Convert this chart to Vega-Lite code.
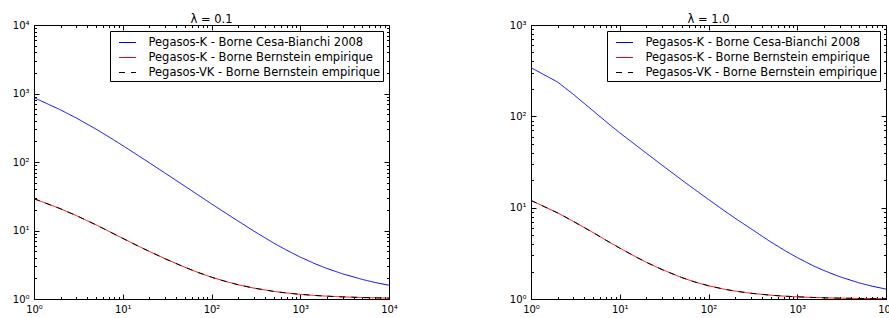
{
  "$schema": "https://vega.github.io/schema/vega-lite/v6.json",
  "padding": {"left": 11, "top": 13, "right": 0, "bottom": 0},
  "background": "white",
  "config": {
    "font": "DejaVu Sans",
    "view": {"stroke": "#000000", "strokeWidth": 1},
    "axis": {
      "domain": false,
      "grid": false,
      "tickColor": "#000000",
      "tickWidth": 1,
      "labelColor": "#000000",
      "labelFont": "DejaVu Sans",
      "labelFontSize": 10,
      "labelFlush": false,
      "labelOverlap": false,
      "labelPadding": 10,
      "title": null
    },
    "title": {"font": "DejaVu Sans", "fontSize": 11.5, "fontWeight": "normal", "color": "#000000", "offset": -5, "frame": "group", "anchor": "middle"},
    "legend": {
      "orient": "top-right",
      "offset": 6,
      "title": null,
      "symbolType": "stroke",
      "symbolSize": 289,
      "symbolStrokeWidth": 1,
      "labelFont": "DejaVu Sans",
      "labelFontSize": 11.5,
      "labelColor": "#000000",
      "labelOffset": 12,
      "labelLimit": 0,
      "padding": 2.5,
      "symbolOffset": 6,
      "rowPadding": -2,
      "strokeColor": "#000000",
      "fillColor": "#ffffff",
      "cornerRadius": 0
    }
  },
  "datasets": {
    "p1": [
      {"n": 1, "s": "cb", "v": 870}, {"n": 2, "s": "cb", "v": 575}, {"n": 3, "s": "cb", "v": 439}, {"n": 5, "s": "cb", "v": 302},
      {"n": 7, "s": "cb", "v": 232}, {"n": 10, "s": "cb", "v": 173.6}, {"n": 15, "s": "cb", "v": 123.7}, {"n": 20, "s": "cb", "v": 97.2},
      {"n": 30, "s": "cb", "v": 68.8}, {"n": 50, "s": "cb", "v": 44.4}, {"n": 70, "s": "cb", "v": 33.3}, {"n": 100, "s": "cb", "v": 24.5},
      {"n": 150, "s": "cb", "v": 17.4}, {"n": 200, "s": "cb", "v": 13.7}, {"n": 300, "s": "cb", "v": 9.81}, {"n": 500, "s": "cb", "v": 6.58},
      {"n": 700, "s": "cb", "v": 5.17}, {"n": 1000, "s": "cb", "v": 4.09}, {"n": 1500, "s": "cb", "v": 3.23}, {"n": 2000, "s": "cb", "v": 2.79},
      {"n": 3000, "s": "cb", "v": 2.33}, {"n": 5000, "s": "cb", "v": 1.93}, {"n": 7000, "s": "cb", "v": 1.74}, {"n": 10000, "s": "cb", "v": 1.59},
      {"n": 1, "s": "bk", "v": 29.1}, {"n": 2, "s": "bk", "v": 20.7}, {"n": 3, "s": "bk", "v": 16.5}, {"n": 5, "s": "bk", "v": 12.1},
      {"n": 7, "s": "bk", "v": 9.71}, {"n": 10, "s": "bk", "v": 7.68}, {"n": 15, "s": "bk", "v": 5.91}, {"n": 20, "s": "bk", "v": 4.94},
      {"n": 30, "s": "bk", "v": 3.87}, {"n": 50, "s": "bk", "v": 2.91}, {"n": 70, "s": "bk", "v": 2.45}, {"n": 100, "s": "bk", "v": 2.08},
      {"n": 150, "s": "bk", "v": 1.778}, {"n": 200, "s": "bk", "v": 1.614}, {"n": 300, "s": "bk", "v": 1.442}, {"n": 500, "s": "bk", "v": 1.293},
      {"n": 700, "s": "bk", "v": 1.225}, {"n": 1000, "s": "bk", "v": 1.17}, {"n": 1500, "s": "bk", "v": 1.124}, {"n": 2000, "s": "bk", "v": 1.1},
      {"n": 3000, "s": "bk", "v": 1.074}, {"n": 5000, "s": "bk", "v": 1.051}, {"n": 7000, "s": "bk", "v": 1.04}, {"n": 10000, "s": "bk", "v": 1.031},
      {"n": 1, "s": "vk", "v": 29.1}, {"n": 2, "s": "vk", "v": 20.7}, {"n": 3, "s": "vk", "v": 16.5}, {"n": 5, "s": "vk", "v": 12.1},
      {"n": 7, "s": "vk", "v": 9.71}, {"n": 10, "s": "vk", "v": 7.68}, {"n": 15, "s": "vk", "v": 5.91}, {"n": 20, "s": "vk", "v": 4.94},
      {"n": 30, "s": "vk", "v": 3.87}, {"n": 50, "s": "vk", "v": 2.91}, {"n": 70, "s": "vk", "v": 2.45}, {"n": 100, "s": "vk", "v": 2.08},
      {"n": 150, "s": "vk", "v": 1.778}, {"n": 200, "s": "vk", "v": 1.614}, {"n": 300, "s": "vk", "v": 1.442}, {"n": 500, "s": "vk", "v": 1.293},
      {"n": 700, "s": "vk", "v": 1.225}, {"n": 1000, "s": "vk", "v": 1.17}, {"n": 1500, "s": "vk", "v": 1.124}, {"n": 2000, "s": "vk", "v": 1.1},
      {"n": 3000, "s": "vk", "v": 1.074}, {"n": 5000, "s": "vk", "v": 1.051}, {"n": 7000, "s": "vk", "v": 1.04}, {"n": 10000, "s": "vk", "v": 1.031}
    ],
    "p2": [
      {"n": 1, "s": "cb", "v": 341}, {"n": 2, "s": "cb", "v": 237}, {"n": 3, "s": "cb", "v": 174}, {"n": 5, "s": "cb", "v": 115},
      {"n": 7, "s": "cb", "v": 87.5}, {"n": 10, "s": "cb", "v": 66}, {"n": 15, "s": "cb", "v": 48.8}, {"n": 20, "s": "cb", "v": 39.4},
      {"n": 30, "s": "cb", "v": 29.2}, {"n": 50, "s": "cb", "v": 20.1}, {"n": 70, "s": "cb", "v": 15.8}, {"n": 100, "s": "cb", "v": 12.3},
      {"n": 150, "s": "cb", "v": 9.28}, {"n": 200, "s": "cb", "v": 7.65}, {"n": 300, "s": "cb", "v": 5.89}, {"n": 500, "s": "cb", "v": 4.23},
      {"n": 700, "s": "cb", "v": 3.46}, {"n": 1000, "s": "cb", "v": 2.84}, {"n": 1500, "s": "cb", "v": 2.32}, {"n": 2000, "s": "cb", "v": 2.05},
      {"n": 3000, "s": "cb", "v": 1.755}, {"n": 5000, "s": "cb", "v": 1.5}, {"n": 7000, "s": "cb", "v": 1.38}, {"n": 10000, "s": "cb", "v": 1.284},
      {"n": 1, "s": "bk", "v": 12.0}, {"n": 2, "s": "bk", "v": 8.76}, {"n": 3, "s": "bk", "v": 7.08}, {"n": 5, "s": "bk", "v": 5.34},
      {"n": 7, "s": "bk", "v": 4.4}, {"n": 10, "s": "bk", "v": 3.61}, {"n": 15, "s": "bk", "v": 2.91}, {"n": 20, "s": "bk", "v": 2.52},
      {"n": 30, "s": "bk", "v": 2.1}, {"n": 50, "s": "bk", "v": 1.715}, {"n": 70, "s": "bk", "v": 1.537}, {"n": 100, "s": "bk", "v": 1.396},
      {"n": 150, "s": "bk", "v": 1.281}, {"n": 200, "s": "bk", "v": 1.22}, {"n": 300, "s": "bk", "v": 1.156}, {"n": 500, "s": "bk", "v": 1.101},
      {"n": 700, "s": "bk", "v": 1.076}, {"n": 1000, "s": "bk", "v": 1.056}, {"n": 1500, "s": "bk", "v": 1.04}, {"n": 2000, "s": "bk", "v": 1.031},
      {"n": 3000, "s": "bk", "v": 1.022}, {"n": 5000, "s": "bk", "v": 1.014}, {"n": 7000, "s": "bk", "v": 1.011}, {"n": 10000, "s": "bk", "v": 1.008},
      {"n": 1, "s": "vk", "v": 12.0}, {"n": 2, "s": "vk", "v": 8.76}, {"n": 3, "s": "vk", "v": 7.08}, {"n": 5, "s": "vk", "v": 5.34},
      {"n": 7, "s": "vk", "v": 4.4}, {"n": 10, "s": "vk", "v": 3.61}, {"n": 15, "s": "vk", "v": 2.91}, {"n": 20, "s": "vk", "v": 2.52},
      {"n": 30, "s": "vk", "v": 2.1}, {"n": 50, "s": "vk", "v": 1.715}, {"n": 70, "s": "vk", "v": 1.537}, {"n": 100, "s": "vk", "v": 1.396},
      {"n": 150, "s": "vk", "v": 1.281}, {"n": 200, "s": "vk", "v": 1.22}, {"n": 300, "s": "vk", "v": 1.156}, {"n": 500, "s": "vk", "v": 1.101},
      {"n": 700, "s": "vk", "v": 1.076}, {"n": 1000, "s": "vk", "v": 1.056}, {"n": 1500, "s": "vk", "v": 1.04}, {"n": 2000, "s": "vk", "v": 1.031},
      {"n": 3000, "s": "vk", "v": 1.022}, {"n": 5000, "s": "vk", "v": 1.014}, {"n": 7000, "s": "vk", "v": 1.011}, {"n": 10000, "s": "vk", "v": 1.008}
    ]
  },
  "spacing": 142,
  "bounds": "flush",
  "resolve": {
    "scale": {"color": "independent", "strokeDash": "independent"},
    "legend": {"color": "independent", "strokeDash": "independent"}
  },
  "hconcat": [
    {
      "width": 355,
      "height": 274,
      "title": "λ = 0.1",
      "data": {"name": "p1"},
      "resolve": {"axis": {"x": "independent", "y": "independent"}},
      "layer": [
        {
          "mark": {"type": "line", "strokeWidth": 1, "clip": true},
          "encoding": {
            "x": {"field": "n", "type": "quantitative",
              "scale": {"type": "log", "domain": [1, 10000], "nice": false},
              "axis": {"orient": "bottom",
                "values": [1,2,3,4,5,6,7,8,9,10,20,30,40,50,60,70,80,90,100,200,300,400,500,600,700,800,900,1000,2000,3000,4000,5000,6000,7000,8000,9000,10000],
                "tickSize": {"expr": "indexof([1,10,100,1000,10000], datum.value) >= 0 ? -5 : -2.5"},
                "labelExpr": "indexof([1,10,100,1000,10000], datum.value) >= 0 ? '10' + ['⁰','¹','²','³','⁴'][indexof([1,10,100,1000,10000], datum.value)] : ''"}},
            "y": {"field": "v", "type": "quantitative",
              "scale": {"type": "log", "domain": [1, 10000], "nice": false},
              "axis": {"orient": "left",
                "values": [1,2,3,4,5,6,7,8,9,10,20,30,40,50,60,70,80,90,100,200,300,400,500,600,700,800,900,1000,2000,3000,4000,5000,6000,7000,8000,9000,10000],
                "tickSize": {"expr": "indexof([1,10,100,1000,10000], datum.value) >= 0 ? -5 : -2.5"},
                "labelExpr": "indexof([1,10,100,1000,10000], datum.value) >= 0 ? '10' + ['⁰','¹','²','³','⁴'][indexof([1,10,100,1000,10000], datum.value)] : ''"}},
            "color": {"field": "s", "type": "nominal",
              "scale": {"domain": ["cb", "bk", "vk"], "range": ["#0000ff", "#ff0000", "#000000"]},
              "legend": {"labelExpr": "datum.value == 'cb' ? 'Pegasos-K - Borne Cesa-Bianchi 2008' : datum.value == 'bk' ? 'Pegasos-K - Borne Bernstein empirique' : 'Pegasos-VK - Borne Bernstein empirique'"}},
            "strokeDash": {"field": "s", "type": "nominal",
              "scale": {"domain": ["cb", "bk", "vk"], "range": [[1, 0], [1, 0], [6, 6]]},
              "legend": {"labelExpr": "datum.value == 'cb' ? 'Pegasos-K - Borne Cesa-Bianchi 2008' : datum.value == 'bk' ? 'Pegasos-K - Borne Bernstein empirique' : 'Pegasos-VK - Borne Bernstein empirique'"}}
          }
        },
        {
          "mark": {"type": "point", "opacity": 0},
          "encoding": {
            "x": {"field": "n", "type": "quantitative",
              "scale": {"type": "log", "domain": [1, 10000], "nice": false},
              "axis": {"orient": "top", "labels": false,
                "values": [1,2,3,4,5,6,7,8,9,10,20,30,40,50,60,70,80,90,100,200,300,400,500,600,700,800,900,1000,2000,3000,4000,5000,6000,7000,8000,9000,10000],
                "tickSize": {"expr": "indexof([1,10,100,1000,10000], datum.value) >= 0 ? -5 : -2.5"}}},
            "y": {"field": "v", "type": "quantitative",
              "scale": {"type": "log", "domain": [1, 10000], "nice": false},
              "axis": {"orient": "right", "labels": false,
                "values": [1,2,3,4,5,6,7,8,9,10,20,30,40,50,60,70,80,90,100,200,300,400,500,600,700,800,900,1000,2000,3000,4000,5000,6000,7000,8000,9000,10000],
                "tickSize": {"expr": "indexof([1,10,100,1000,10000], datum.value) >= 0 ? -5 : -2.5"}}}
          }
        }
      ]
    },
    {
      "width": 355,
      "height": 274,
      "title": "λ = 1.0",
      "data": {"name": "p2"},
      "resolve": {"axis": {"x": "independent", "y": "independent"}},
      "layer": [
        {
          "mark": {"type": "line", "strokeWidth": 1, "clip": true},
          "encoding": {
            "x": {"field": "n", "type": "quantitative",
              "scale": {"type": "log", "domain": [1, 10000], "nice": false},
              "axis": {"orient": "bottom",
                "values": [1,2,3,4,5,6,7,8,9,10,20,30,40,50,60,70,80,90,100,200,300,400,500,600,700,800,900,1000,2000,3000,4000,5000,6000,7000,8000,9000,10000],
                "tickSize": {"expr": "indexof([1,10,100,1000,10000], datum.value) >= 0 ? -5 : -2.5"},
                "labelExpr": "indexof([1,10,100,1000,10000], datum.value) >= 0 ? '10' + ['⁰','¹','²','³','⁴'][indexof([1,10,100,1000,10000], datum.value)] : ''"}},
            "y": {"field": "v", "type": "quantitative",
              "scale": {"type": "log", "domain": [1, 1000], "nice": false},
              "axis": {"orient": "left",
                "values": [1,2,3,4,5,6,7,8,9,10,20,30,40,50,60,70,80,90,100,200,300,400,500,600,700,800,900,1000],
                "tickSize": {"expr": "indexof([1,10,100,1000], datum.value) >= 0 ? -5 : -2.5"},
                "labelExpr": "indexof([1,10,100,1000], datum.value) >= 0 ? '10' + ['⁰','¹','²','³'][indexof([1,10,100,1000], datum.value)] : ''"}},
            "color": {"field": "s", "type": "nominal",
              "scale": {"domain": ["cb", "bk", "vk"], "range": ["#0000ff", "#ff0000", "#000000"]},
              "legend": {"labelExpr": "datum.value == 'cb' ? 'Pegasos-K - Borne Cesa-Bianchi 2008' : datum.value == 'bk' ? 'Pegasos-K - Borne Bernstein empirique' : 'Pegasos-VK - Borne Bernstein empirique'"}},
            "strokeDash": {"field": "s", "type": "nominal",
              "scale": {"domain": ["cb", "bk", "vk"], "range": [[1, 0], [1, 0], [6, 6]]},
              "legend": {"labelExpr": "datum.value == 'cb' ? 'Pegasos-K - Borne Cesa-Bianchi 2008' : datum.value == 'bk' ? 'Pegasos-K - Borne Bernstein empirique' : 'Pegasos-VK - Borne Bernstein empirique'"}}
          }
        },
        {
          "mark": {"type": "point", "opacity": 0},
          "encoding": {
            "x": {"field": "n", "type": "quantitative",
              "scale": {"type": "log", "domain": [1, 10000], "nice": false},
              "axis": {"orient": "top", "labels": false,
                "values": [1,2,3,4,5,6,7,8,9,10,20,30,40,50,60,70,80,90,100,200,300,400,500,600,700,800,900,1000,2000,3000,4000,5000,6000,7000,8000,9000,10000],
                "tickSize": {"expr": "indexof([1,10,100,1000,10000], datum.value) >= 0 ? -5 : -2.5"}}},
            "y": {"field": "v", "type": "quantitative",
              "scale": {"type": "log", "domain": [1, 1000], "nice": false},
              "axis": {"orient": "right", "labels": false,
                "values": [1,2,3,4,5,6,7,8,9,10,20,30,40,50,60,70,80,90,100,200,300,400,500,600,700,800,900,1000],
                "tickSize": {"expr": "indexof([1,10,100,1000], datum.value) >= 0 ? -5 : -2.5"}}}
          }
        }
      ]
    }
  ]
}
